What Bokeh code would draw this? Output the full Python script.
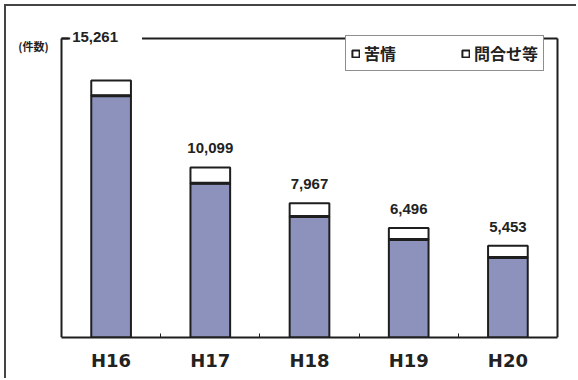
from bokeh.plotting import figure
from bokeh.models import FixedTicker, Label, Legend, LegendItem, Range1d, LinearAxis
from bokeh.embed import file_html
from bokeh.resources import INLINE

# ---- data ----
years = ["H16", "H17", "H18", "H19", "H20"]
complaints = [14350, 9150, 7180, 5820, 4750]      # 苦情
inquiries = [911, 949, 787, 676, 703]             # 問合せ等
series_names = ["苦情", "問合せ等"]
unit_label = "(件数)"
y_max = 17750

totals = [c + q for c, q in zip(complaints, inquiries)]
n = len(years)
xs = [i + 0.5 for i in range(n)]

BLUE = "#8d92bd"
INK = "#1e1e1e"

# ---- layout geometry (page pixels) ----
OFF = 6                      # margin + css border
FR_L, FR_R, FR_T, FR_B = 14, 559, 20, 337
AX_L, AX_R, AX_T = 61, 557, 38   # visible axis box left / right / top
px_per_x = (AX_R - AX_L) / n
x_start = -(AX_L - FR_L) / px_per_x
x_end = n + (FR_R - AX_R) / px_per_x
px_per_y = (FR_B - AX_T) / y_max
y_end = y_max + (AX_T - FR_T) / px_per_y

W, H = 578 - OFF, 380 - OFF
p = figure(width=W, height=H, output_backend="svg", toolbar_location=None,
           title=None, x_range=Range1d(x_start, x_end), y_range=Range1d(0, y_end),
           min_border_left=FR_L - OFF, min_border_right=W - (FR_R - OFF),
           min_border_top=FR_T - OFF, min_border_bottom=H - (FR_B - OFF))
p.margin = (4, 0, 0, 4)
p.styles = {"border-left": "2px solid #444", "border-top": "2px solid #444"}

p.background_fill_color = "white"
p.border_fill_color = None
p.outline_line_color = None
p.xgrid.visible = False
p.ygrid.visible = False

p.vbar(x=xs, bottom=0, top=complaints, width=0.4, fill_color=BLUE,
       line_color=INK, line_width=2)
p.vbar(x=xs, bottom=complaints, top=totals, width=0.4, fill_color="white",
       line_color=INK, line_width=2)
# thicker divider between segments
p.vbar(x=xs, bottom=complaints, top=complaints, width=0.4, fill_color=None,
       line_color=INK, line_width=3)

# x axis
xa = p.xaxis[0]
xa.bounds = (0, n)
xa.ticker = FixedTicker(ticks=xs, minor_ticks=[i for i in range(1, n)])
xa.major_label_overrides = {x: y for x, y in zip(xs, years)}
xa.major_tick_in = 0
xa.major_tick_out = 0
xa.minor_tick_in = 4
xa.minor_tick_out = 0
xa.minor_tick_line_color = INK
xa.axis_line_color = INK
xa.axis_line_width = 2
xa.major_label_text_font = "DejaVu Sans"
xa.major_label_text_font_style = "bold"
xa.major_label_text_font_size = "18px"
xa.major_label_text_color = "#222"
xa.major_label_standoff = 12

# y axis
ya = p.yaxis[0]
ya.fixed_location = 0
ya.bounds = (0, y_max)
ya.ticker = FixedTicker(ticks=[y_max - 5])
ya.major_label_overrides = {y_max - 5: ""}
ya.major_tick_in = 7
ya.major_tick_out = 0
ya.major_tick_line_color = INK
ya.major_tick_line_width = 2
ya.minor_tick_line_color = None
ya.axis_line_color = INK
ya.axis_line_width = 2
ya.major_label_text_font_size = "1px"
ya.major_label_standoff = 0


def plain_axis(loc, bounds):
    return LinearAxis(fixed_location=loc, bounds=bounds, ticker=FixedTicker(ticks=[]),
                      axis_line_color=INK, axis_line_width=2,
                      major_tick_line_color=None, minor_tick_line_color=None,
                      major_label_text_font_size="1px", major_label_standoff=0,
                      major_tick_out=0, major_tick_in=0)


p.add_layout(plain_axis(y_max, (0, n)), "above")
p.add_layout(plain_axis(n, (0, y_max)), "right")

# value labels
for x, t in zip(xs, totals):
    txt = f"{t:,}"
    if t > y_max * 0.8:
        p.add_layout(Label(x=x, y=y_max, text=txt, x_offset=-5, text_align="center",
                           text_baseline="middle", text_font="Liberation Sans",
                           text_font_style="bold", text_font_size="15px", text_color="#222",
                           background_fill_color="white", padding=(2, 24, 2, 6)))
    else:
        p.add_layout(Label(x=x, y=t, text=txt, y_offset=14, text_align="center",
                           text_baseline="bottom", text_font="Liberation Sans",
                           text_font_style="bold", text_font_size="15px", text_color="#222"))

# unit label
p.add_layout(Label(x=0, y=y_max, text=unit_label, x_offset=-28, y_offset=-7,
                   text_align="center", text_baseline="middle",
                   text_font="Noto Sans CJK JP", text_font_style="bold",
                   text_font_size="11px", text_color="#222"))

# legend (square icons)
nan = float("nan")
d1 = p.quad(left=[nan], right=[nan], bottom=[nan], top=[nan], fill_color="white",
            line_color=INK, line_width=2)
d2 = p.quad(left=[nan], right=[nan], bottom=[nan], top=[nan], fill_color="white",
            line_color=INK, line_width=2)
legend = Legend(items=[LegendItem(label=series_names[0], renderers=[d1]),
                       LegendItem(label=series_names[1], renderers=[d2])],
                orientation="horizontal", location=(345 - FR_L, FR_B - 71),
                border_line_color=INK, border_line_width=1.5,
                background_fill_color="white", background_fill_alpha=1,
                label_text_font="Noto Sans CJK JP", label_text_font_style="bold",
                label_text_font_size="16px", label_text_color="#222",
                glyph_width=9, glyph_height=9, label_standoff=4, spacing=65,
                padding=5, margin=0, label_height=14)
p.add_layout(legend)

open("out.html", "w").write(file_html(p, INLINE))
